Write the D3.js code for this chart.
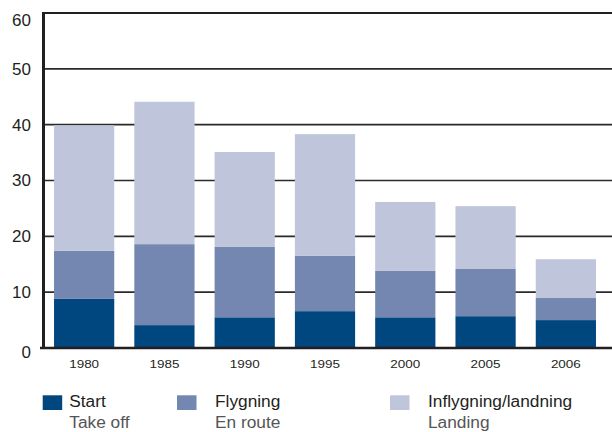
<!DOCTYPE html>
<html><head><meta charset="utf-8">
<script src="https://cdn.jsdelivr.net/npm/d3@7"></script>
<style>body{margin:0;background:#fff}svg{display:block;font-family:"Liberation Sans",Arial,sans-serif}</style>
</head><body>
<svg id="c" width="612" height="432"></svg>
<script>
const years = ["1980","1985","1990","1995","2000","2005","2006"];
const startVals = [8.8, 4.1, 5.5, 6.6, 5.5, 5.7, 5.0];
const flygVals = [8.6, 14.5, 12.6, 9.9, 8.3, 8.45, 3.95];
const landVals = [22.5, 25.5, 17.0, 21.8, 12.35, 11.25, 6.95];
const yTicks = [0, 10, 20, 30, 40, 50, 60];
const seriesKeys = ["start", "flyg", "land"];
const seriesNames = [["Start","Take off"],["Flygning","En route"],["Inflygning/landning","Landing"]];
const colors = ["#00467f", "#7387b0", "#bfc5da"];

const svg = d3.select("#c");
const x0 = 43, x1 = 612, yTop = 13, yBot = 348;
const x = d3.scaleBand().domain(years).range([44, 606]).paddingInner(0.25).paddingOuter(0.125);
const y = d3.scaleLinear().domain([0, 60]).range([yBot, yTop]);

const table = years.map((yr, i) => ({year: yr, start: startVals[i], flyg: flygVals[i], land: landVals[i]}));
const stack = d3.stack().keys(seriesKeys)(table);

// gridlines
svg.append("g").selectAll("line").data(yTicks.filter(t => t > 0 && t < 60)).join("line")
  .attr("x1", x0).attr("x2", x1).attr("y1", d => y(d)).attr("y2", d => y(d))
  .attr("stroke", "#2a2a2a").attr("stroke-width", 1.6);

// bars
svg.append("g").selectAll("g").data(stack).join("g")
  .attr("fill", (d, i) => colors[i])
  .selectAll("rect").data(d => d).join("rect")
  .attr("x", d => x(d.data.year)).attr("width", x.bandwidth())
  .attr("y", d => y(d[1])).attr("height", d => y(d[0]) - y(d[1]));

// frame
svg.append("line").attr("x1", x0).attr("x2", x1).attr("y1", y(60)).attr("y2", y(60))
  .attr("stroke", "#231f20").attr("stroke-width", 2.2);
svg.append("line").attr("x1", 43.5).attr("x2", 43.5).attr("y1", y(60) - 1).attr("y2", yBot + 1)
  .attr("stroke", "#231f20").attr("stroke-width", 3);
svg.append("line").attr("x1", 40).attr("x2", x1).attr("y1", yBot).attr("y2", yBot)
  .attr("stroke", "#231f20").attr("stroke-width", 2.5);

function stretch(sel, k) {
  sel.each(function() {
    const w = this.getComputedTextLength();
    d3.select(this).attr("textLength", w * k).attr("lengthAdjust", "spacingAndGlyphs");
  });
}

// y axis labels
const yAxis = d3.axisLeft(y).tickValues(yTicks).tickSize(0).tickPadding(12);
const ya = svg.append("g").attr("transform", `translate(${x0},0)`).call(yAxis);
ya.select(".domain").remove();
ya.selectAll("text").attr("font-size", 17).attr("fill", "#231f20")
  .attr("font-family", "'Liberation Sans',Arial,sans-serif")
  .attr("dy", d => d === 60 ? "0.75em" : d === 0 ? "0.55em" : "0.32em");

// x axis labels
const xAxis = d3.axisBottom(x).tickSize(0).tickPadding(12);
const xa = svg.append("g").attr("transform", `translate(0,${yBot})`).call(xAxis);
xa.select(".domain").remove();
xa.selectAll("text").attr("font-size", 11.5).attr("fill", "#231f20")
  .attr("font-family", "'Liberation Sans',Arial,sans-serif").call(stretch, 1.17);

// legend
const legX = [42.7, 177, 390];
const legTextDx = [26.6, 38, 38];
const lg = svg.append("g").selectAll("g").data(seriesNames).join("g")
  .attr("transform", (d, i) => `translate(${legX[i]},395.3)`);
lg.append("rect").attr("width", 19.5).attr("height", 14.7).attr("fill", (d, i) => colors[i]);
lg.append("text").attr("x", (d, i) => legTextDx[i]).attr("y", 12).attr("font-size", 16).attr("fill", "#231f20").text(d => d[0]).call(stretch, 1.08);
lg.append("text").attr("x", (d, i) => legTextDx[i]).attr("y", 32.4).attr("font-size", 16).attr("fill", "#555").text(d => d[1]).call(stretch, 1.08);
</script>
</body></html>
